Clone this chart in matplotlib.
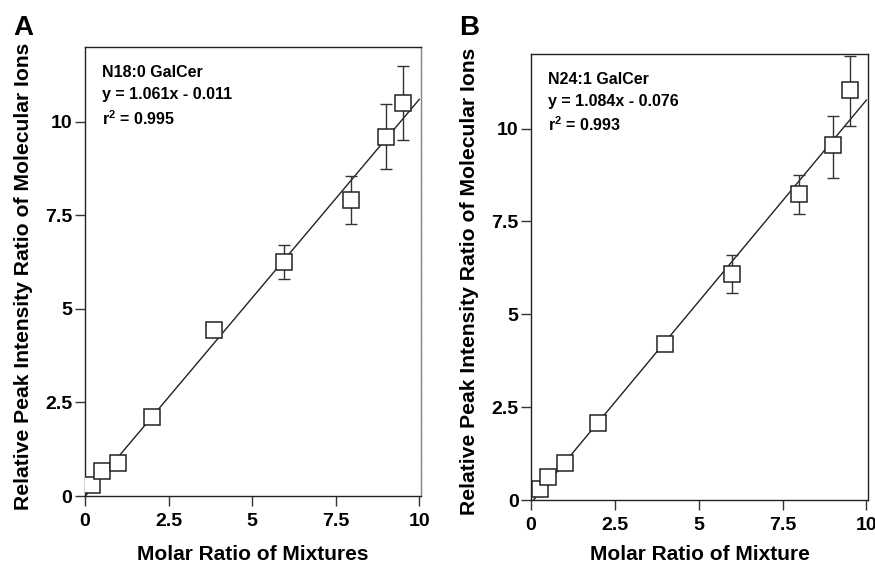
import matplotlib
matplotlib.use("Agg")
import matplotlib.pyplot as plt
import numpy as np

plt.rcParams['font.family'] = ['Liberation Sans', 'DejaVu Sans']
plt.rcParams['font.weight'] = 'bold'
plt.rcParams['mathtext.fontset'] = 'custom'
plt.rcParams['mathtext.rm'] = 'Liberation Sans:bold'
plt.rcParams['mathtext.bf'] = 'Liberation Sans:bold'
plt.rcParams['mathtext.it'] = 'Liberation Sans:bold'

# Panel A: N18:0 GalCer
xA = [0.22, 0.5, 1.0, 2.0, 3.85, 5.95, 7.95, 9.0, 9.5]
yA = [0.3, 0.68, 0.88, 2.1, 4.45, 6.25, 7.92, 9.6, 10.5]
errA_lo = [0.0, 0.0, 0.0, 0.0, 0.0, 0.45, 0.65, 0.85, 0.98]
errA_hi = [0.0, 0.0, 0.0, 0.0, 0.0, 0.45, 0.64, 0.88, 1.0]
slopeA, interA = 1.061, -0.011

# Panel B: N24:1 GalCer
xB = [0.25, 0.5, 1.0, 2.0, 4.0, 6.0, 8.0, 9.0, 9.5]
yB = [0.3, 0.62, 1.0, 2.08, 4.2, 6.08, 8.24, 9.57, 11.05]
errB_lo = [0.0, 0.0, 0.0, 0.0, 0.0, 0.52, 0.54, 0.9, 0.97]
errB_hi = [0.0, 0.0, 0.0, 0.0, 0.0, 0.52, 0.52, 0.78, 0.9]
slopeB, interB = 1.084, -0.076

ticks = [0, 2.5, 5, 7.5, 10]
tick_labels = ['0', '2.5', '5', '7.5', '10']

fig = plt.figure(figsize=(8.75, 5.65), dpi=100)
axA = fig.add_axes([0.0971, 0.122, 0.384, 0.795])
axB = fig.add_axes([0.607, 0.115, 0.385, 0.789])

panels = [
    (axA, xA, yA, errA_lo, errA_hi, slopeA, interA,
     ['N18:0 GalCer', 'y = 1.061x - 0.011', r'r$^{2}$ = 0.995'],
     'Molar Ratio of Mixtures', 'A', -0.108),
    (axB, xB, yB, errB_lo, errB_hi, slopeB, interB,
     ['N24:1 GalCer', 'y = 1.084x - 0.076', r'r$^{2}$ = 0.993'],
     'Molar Ratio of Mixture', 'B', -0.100),
]

for ax, x, y, elo, ehi, m, b, txt, xlabel, letter, xly in panels:
    xl = np.array([0.0, 10.0])
    ax.plot(xl, m * xl + b, color='#222222', lw=1.0, zorder=1)
    ax.errorbar(x, y, yerr=[elo, ehi], fmt='none', ecolor='#333333',
                elinewidth=1.0, capsize=4.5, capthick=1.0, zorder=2)
    ax.plot(x, y, ls='none', marker='s', ms=11, mfc='white', mec='#222222',
            mew=1.1, zorder=3)
    ax.set_xlim(0, 10.05)
    ax.set_ylim(0, 12.0)
    ax.set_xticks(ticks)
    ax.set_xticklabels(tick_labels)
    ax.set_yticks(ticks)
    ax.set_yticklabels(tick_labels)
    ax.tick_params(direction='out', length=7, width=1.0, labelsize=14,
                   color='#333333')
    ax.tick_params(axis='x', pad=5)
    ax.tick_params(axis='y', pad=2)
    for lab in ax.get_xticklabels() + ax.get_yticklabels():
        lab.set_fontweight('bold')
    for s in ax.spines.values():
        s.set_linewidth(1.0)
        s.set_color('#222222')
    if letter == 'A':
        ax.spines['right'].set_color('#888888')
        ax.spines['right'].set_linestyle((0, (1, 0.6)))
    ax.set_xlabel(xlabel, fontsize=15, fontweight='bold')
    ax.xaxis.set_label_coords(0.5, xly)
    ax.set_ylabel('Relative Peak Intensity Ratio of Molecular Ions',
                  fontsize=15.2, fontweight='bold')
    ax.yaxis.set_label_coords(-0.156, 0.49)
    for i, t in enumerate(txt):
        ax.text(0.05, 0.96 - i * 0.049, t, transform=ax.transAxes,
                fontsize=11.5, fontweight='bold', va='top', ha='left')

fig.text(13 / 875, 1 - 35 / 565, 'A', fontsize=20, fontweight='bold',
         ha='left', va='baseline')
fig.text(459 / 875, 1 - 35 / 565, 'B', fontsize=20, fontweight='bold',
         ha='left', va='baseline')

fig.savefig('out.png', dpi=100)
